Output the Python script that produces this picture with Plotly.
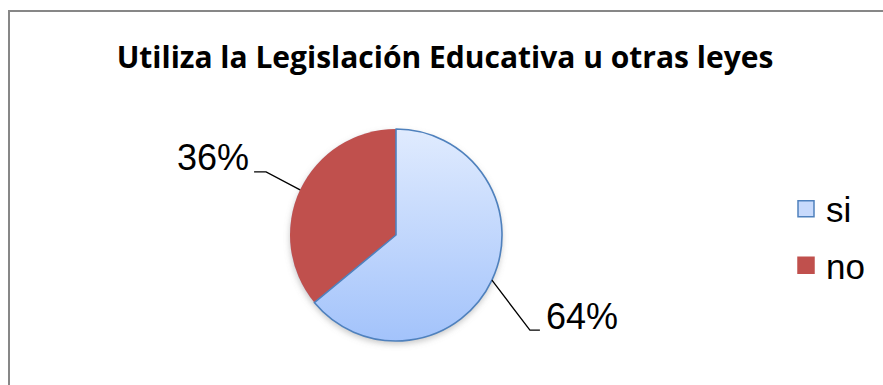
import math, base64
import plotly.graph_objects as go

# ---- data ----
labels = ["si", "no"]
values = [64, 36]
label_texts = ["64%", "36%"]
title_text = "Utiliza la Legislación Educativa u otras leyes"

# ---- style / layout constants ----
W, H = 883, 385
CX, CY, R = 396, 235, 106          # pie centre / radius in px
colors = {"si": "rgba(0,0,0,0)", "no": "#c0504d"}
legend_colors = {"si": "#c8dafc", "no": "#c0504d"}
edge_color = "#4f81bd"
# leader-line geometry per label (elbow offset from slice edge, tail length)
leader = {"si": dict(dx=38, dy=50, tail=10), "no": dict(dx=-34, dy=-18, tail=-12)}
LABEL_FONT = 36


def px(x):
    return x / W


def py(y):
    return 1 - y / H


total = sum(values)
si_share = values[0] / total
# draw "no" first (so "si" outline lies on the shared edges), starting where "si" ends
order = [1, 0]
rotation = 360 * si_share

fig = go.Figure()
fig.add_trace(go.Pie(
    labels=[labels[i] for i in order],
    values=[values[i] for i in order],
    sort=False, direction="clockwise", rotation=rotation,
    textinfo="none", hoverinfo="label+percent", showlegend=False,
    marker=dict(colors=[colors[labels[i]] for i in order],
                line=dict(color=[edge_color if labels[i] == "si" else colors[labels[i]] for i in order],
                          width=[1.6 if labels[i] == "si" else 0 for i in order])),
    domain=dict(x=[px(CX - R), px(CX + R)], y=[py(CY + R), py(CY - R)]),
))

# legend entries
for name in labels:
    fig.add_trace(go.Scatter(
        x=[None], y=[None], mode="markers", name=name, legendgroup=name,
        marker=dict(symbol="square", size=16, color=legend_colors[name],
                    line=dict(color=edge_color if name == "si" else legend_colors[name], width=1.5)),
    ))

# gradient face + soft shadow for the pie (svg image under the transparent "si" slice)
pad, padb = 8, 12
iw, ih = 2 * R + 2 * pad, 2 * R + pad + padb
svg = f'''<svg xmlns="http://www.w3.org/2000/svg" width="{iw}" height="{ih}" viewBox="0 0 {iw} {ih}">
<defs>
<linearGradient id="g" x1="0" y1="0" x2="0" y2="1">
<stop offset="0" stop-color="#e0ebfe"/><stop offset="1" stop-color="#a3c3fb"/></linearGradient>
<filter id="b" x="-20%" y="-20%" width="140%" height="140%"><feGaussianBlur stdDeviation="3"/></filter>
</defs>
<circle cx="{pad + R}" cy="{pad + R + 3}" r="{R}" fill="#7f7f7f" fill-opacity="0.45" filter="url(#b)"/>
<circle cx="{pad + R}" cy="{pad + R}" r="{R}" fill="url(#g)"/>
</svg>'''
src = "data:image/svg+xml;base64," + base64.b64encode(svg.encode()).decode()
fig.add_layout_image(dict(source=src, xref="paper", yref="paper",
                          x=px(CX - R - pad), y=py(CY - R - pad),
                          sizex=iw / W, sizey=ih / H, xanchor="left", yanchor="top",
                          sizing="stretch", layer="below"))

# labels with leader lines, from slice mid-angles
shapes = []
annotations = []
start = 0.0
for name, v, txt in zip(labels, values, label_texts):
    mid = start + 360 * v / total / 2
    start += 360 * v / total
    a = math.radians(mid)
    ex, ey = CX + R * math.sin(a), CY - R * math.cos(a)
    g = leader[name]
    bx, by = ex + g["dx"], ey + g["dy"]
    tx = bx + g["tail"]
    shapes.append(dict(type="path", xref="paper", yref="paper",
                       path=f"M{px(ex)},{py(ey)} L{px(bx)},{py(by)} L{px(tx)},{py(by)}",
                       line=dict(color="black", width=1.3)))
    right = g["tail"] > 0
    annotations.append(dict(text=txt, xref="paper", yref="paper", showarrow=False,
                            x=px(tx + (4 if right else -3)), y=py(by - 14),
                            xanchor="left" if right else "right", yanchor="middle",
                            font=dict(family="Liberation Sans, Arial", size=LABEL_FONT, color="black")))

# outer border
shapes.append(dict(type="rect", xref="paper", yref="paper", x0=px(9), x1=1.02, y0=-0.02, y1=py(11),
                   line=dict(color="#878787", width=2), fillcolor="rgba(0,0,0,0)", layer="below"))

fig.update_layout(
    width=W, height=H, margin=dict(l=0, r=0, t=0, b=0),
    paper_bgcolor="white", plot_bgcolor="white",
    title=dict(text=f"<b>{title_text}</b>", x=445 / W, xanchor="center", y=py(57), yanchor="middle",
               font=dict(family="Open Sans", size=30, color="black")),
    xaxis=dict(visible=False), yaxis=dict(visible=False),
    legend=dict(x=px(786), y=py(237), xanchor="left", yanchor="middle", tracegroupgap=8,
                font=dict(family="Liberation Sans, Arial", size=35, color="black"),
                bgcolor="rgba(0,0,0,0)", itemclick=False),
    shapes=shapes, annotations=annotations,
)

fig.write_html("out.html")
